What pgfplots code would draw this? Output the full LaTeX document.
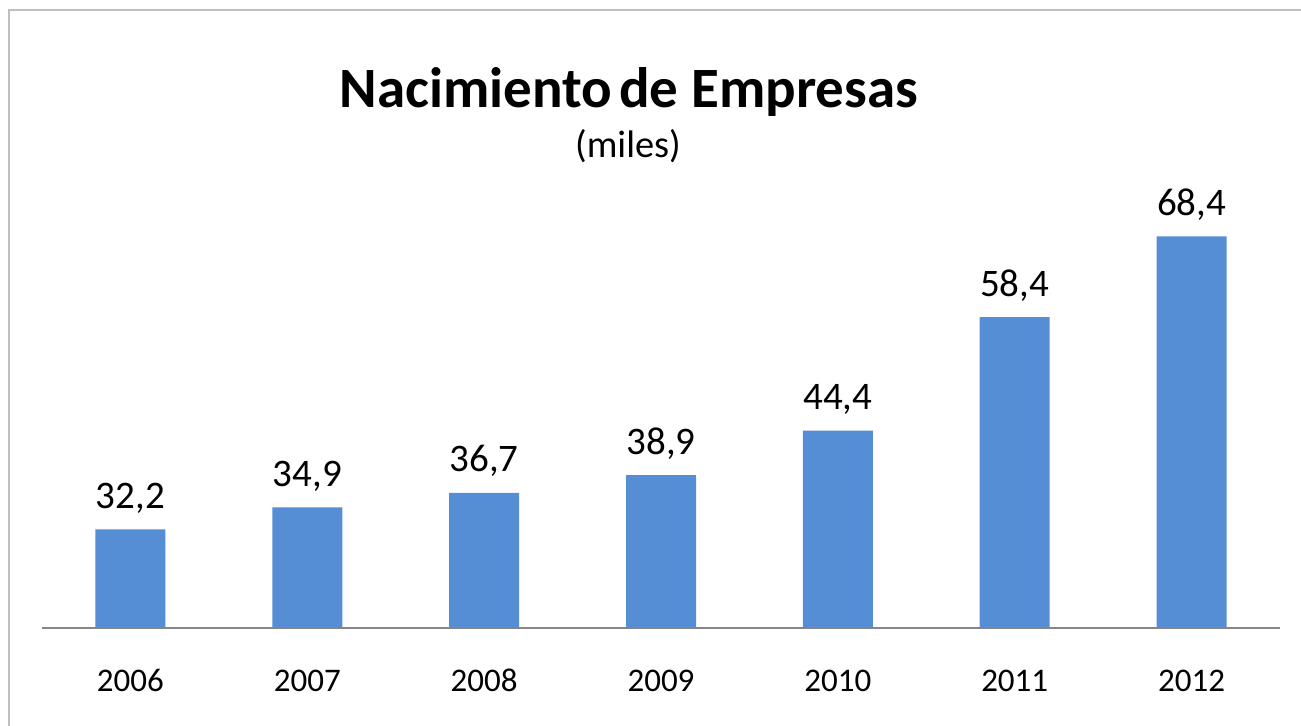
\documentclass[border=0pt]{standalone}
\usepackage{fontspec}
\setmainfont{Carlito}
\usepackage{pgfplots}
\pgfplotsset{compat=1.18}
\definecolor{barblue}{HTML}{558ED5}
\definecolor{axisgray}{HTML}{868686}
\definecolor{framegray}{HTML}{C0C0C0}

\begin{document}
% 1 px of the reference = 0.5pt, y measured from the bottom
\begin{tikzpicture}[x=0.5pt,y=0.5pt]
\useasboundingbox (0,0) rectangle (1301,726);
\draw[framegray, line width=1pt] (9,-5) -- (9,716) -- (1306,716);
\node[anchor=base] at (629,618) {\bfseries\fontsize{28.5}{32}\selectfont Nacimiento\hspace{0.12em}de Empresas};
\node[anchor=base] at (628,568) {\fontsize{19.2}{22}\selectfont (miles)};
\coordinate (axisorigin) at (42,98);
\begin{axis}[
  at={(axisorigin)}, anchor=south west,
  scale only axis, width=619pt, height=242.8pt,
  ybar, bar width=35pt,
  xmin=-0.5, xmax=6.5, ymin=20, ymax=80,
  axis x line*=bottom, axis y line=none,
  axis line style={axisgray, line width=1pt, -},
  axis on top,
  xtick=data, xticklabels={2006,2007,2008,2009,2010,2011,2012},
  major tick length=0pt,
  xticklabel style={anchor=base, yshift=-32pt, font=\fontsize{16.5}{19}\selectfont},
  nodes near coords,
  nodes near coords style={anchor=base, yshift=10.5pt, font=\fontsize{19.5}{22}\selectfont},
  every node near coord/.append style={/pgf/number format/.cd, use comma, fixed, fixed zerofill, precision=1, assume math mode=true},
  /pgf/number format/assume math mode=true,
]
\addplot[fill=barblue, draw=none] coordinates {
  (0,32.2) (1,34.9) (2,36.7) (3,38.9) (4,44.4) (5,58.4) (6,68.4)
};
\end{axis}
\end{tikzpicture}
\end{document}
